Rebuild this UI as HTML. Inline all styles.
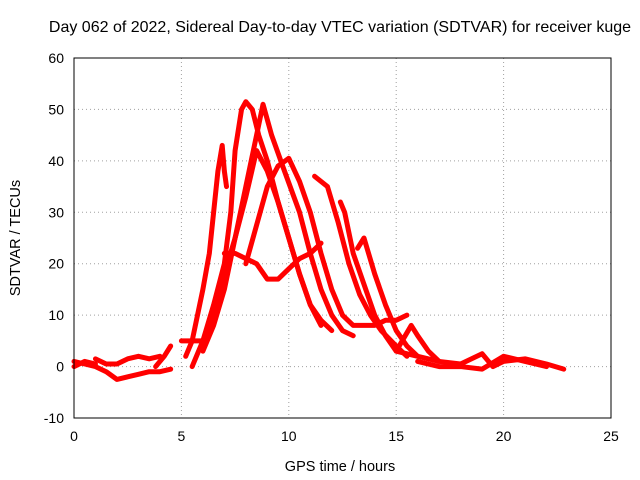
<!DOCTYPE html>
<html><head><meta charset="utf-8"><style>
body{margin:0;background:#fff}
svg{display:block;font-family:"Liberation Sans",sans-serif}
</style></head><body>
<svg id="chart" width="640" height="480" viewBox="0 0 640 480">
<text x="340" y="32" font-size="16" text-anchor="middle">Day 062 of 2022, Sidereal Day-to-day VTEC variation (SDTVAR) for receiver kuge</text>
<text x="340" y="471" font-size="14.5" text-anchor="middle">GPS time / hours</text>
<text transform="translate(20,238) rotate(-90)" font-size="14.5" text-anchor="middle">SDTVAR / TECUs</text>
<g id="grid"></g><g id="ticks"></g><g id="series"></g>
<rect x="74" y="58" width="537" height="360" fill="none" stroke="#000" stroke-width="1"/>
</svg>
<script>
const xTicks=[0,5,10,15,20,25];
const yTicks=[-10,0,10,20,30,40,50,60];
const track1=[[0,1],[0.5,0.5],[1,0],[1.5,-1],[2,-2.5],[2.5,-2],[3,-1.5],[3.5,-1],[4,-1],[4.5,-0.5]];
const track2=[[1,1.5],[1.5,0.5],[2,0.5],[2.5,1.5],[3,2],[3.5,1.5],[4,2]];
const track3=[[0,0],[0.5,1],[1,0.5]];
const track4=[[3.8,0],[4.2,2],[4.5,4]];
const track5=[[5.2,2],[5.5,5],[6,15],[6.3,22],[6.5,30],[6.7,38],[6.9,43],[7.0,38],[7.1,35]];
const track6=[[5.5,0],[6,5],[6.5,12],[7,20],[7.3,30],[7.5,42],[7.8,50],[8,51.5],[8.3,50],[8.6,45],[9,40],[9.5,32],[10,25],[10.5,18],[11,12],[11.5,9],[12,7]];
const track7=[[6,3],[6.5,8],[7,15],[7.5,25],[8,35],[8.5,45],[8.8,51],[9.2,45],[9.8,38],[10.5,30],[11,22],[11.5,15],[12,10],[12.5,7],[13,6]];
const track8=[[5,5],[6,5],[6.5,10],[7,18],[7.5,25],[8,33],[8.5,42],[9,38],[9.5,32],[10,25],[10.5,18],[11,12],[11.5,8]];
const track9=[[7,22],[7.5,22],[8,21],[8.5,20],[9,17],[9.5,17],[10,19],[10.5,21],[11,22],[11.5,24]];
const track10=[[8,20],[9,35],[9.5,39],[10,40.5],[10.5,36],[11,30],[11.5,22],[12,15],[12.5,10],[13,8],[13.5,8],[14,8],[14.5,9],[15,9],[15.5,10]];
const track11=[[11.2,37],[11.8,35],[12.3,28],[12.8,20],[13.3,14],[13.8,10],[14.3,7],[15,4],[15.5,2]];
const track12=[[12.4,32],[12.6,30],[13,22],[13.5,16],[14,10],[14.5,6],[15,3],[16,2]];
const track13=[[13.2,23],[13.5,25],[14,18],[14.5,12],[15,7],[15.5,4],[16,2],[17,1]];
const track14=[[15,3],[15.7,8],[16,6],[16.5,3],[17,1],[18,0.5],[19,2.5],[19.5,0],[20,1],[21,1.5],[22,0.5],[22.8,-0.5]];
const track15=[[16,1],[17,0],[18,0],[19,-0.5],[20,2],[21,1],[22,0]];
const tracks=[track1,track2,track3,track4,track5,track6,track7,track8,track9,track10,track11,track12,track13,track14,track15];
const X0=74,X1=611,Y0=418,Y1=58;
const sx=v=>X0+(v-0)/(25-0)*(X1-X0);
const sy=v=>Y0-(v+10)/70*(Y0-Y1);
const NS="http://www.w3.org/2000/svg";
const grid=document.getElementById('grid'),ticks=document.getElementById('ticks'),ser=document.getElementById('series');
function mk(tag,attrs,parent){const e=document.createElementNS(NS,tag);for(const k in attrs)e.setAttribute(k,attrs[k]);parent.appendChild(e);return e;}
xTicks.forEach(t=>{
  const x=sx(t);
  if(t>0&&t<25){const g=mk('line',{x1:x,x2:x,y1:Y1,y2:Y0,stroke:'#a0a0a0','stroke-dasharray':'1,3'},grid);
  
  }
  const l=mk('text',{x:x,y:Y0+23,'font-size':14,'text-anchor':'middle'},ticks);l.textContent=t;
  
  
});
yTicks.forEach(t=>{
  const y=sy(t);
  if(t>-10&&t<60){const g=mk('line',{x1:X0,x2:X1,y1:y,y2:y,stroke:'#a0a0a0','stroke-dasharray':'1,3'},grid);
  
  }
  const l=mk('text',{x:X0-10,y:y+5,'font-size':14,'text-anchor':'end'},ticks);l.textContent=t;
  
  
});
tracks.forEach((tr,i)=>{
  const p=mk('polyline',{points:tr.map(d=>sx(d[0])+','+sy(d[1])).join(' '),fill:'none',stroke:'#ff0000','stroke-width':5,'stroke-linejoin':'round','stroke-linecap':'round'},ser);
  
  
});
</script>
</body></html>
